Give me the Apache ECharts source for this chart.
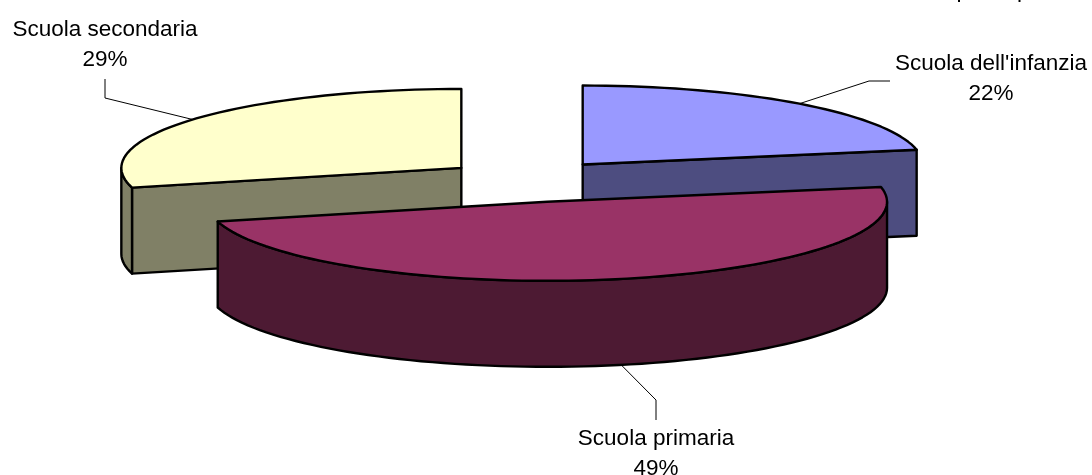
<!DOCTYPE html>
<html>
<head>
<meta charset="utf-8">
<style>
  html, body { margin: 0; padding: 0; background: #fff; }
  #chart { width: 1092px; height: 475px; }
</style>
<script src="https://cdn.jsdelivr.net/npm/echarts@6/dist/echarts.min.js"></script>
</head>
<body>
<div id="chart"></div>
<script>
// Dati
const categories = ["Scuola dell'infanzia", "Scuola primaria", "Scuola secondaria"];
const values = [22, 49, 29];

// Stile
const topColors = ["#9999ff", "#993366", "#ffffcc"];
const sideColors = ["#4d4d80", "#4d1a33", "#808066"];
const sliceZ = [1, 3, 2];

// Posizione etichette e linee guida (gomito, fine)
const labelPos = [[991, 64], [656, 439], [105, 30]];
const leaderBend = [[869, 81], [656, 400], [105, 98]];
const leaderEnd = [[890, 81], [656, 420], [105, 79]];

// Resti del titolo tagliato dal bordo superiore
const clippedTitleX = [956.5, 1017];

// Ellisse del pie "3D"
const pie = { cx: 528.5, cy: 181, rx: 340, ry: 79, depth: 86, explodeX: 0.25, explodeY: 0.27 };

const total = values.reduce((a, b) => a + b, 0);
const fontFamily = '"Liberation Sans", Arial, sans-serif';
const labelFont = "22.5px " + fontFamily;

function rimPoint(c, deg) {
  const a = deg * Math.PI / 180;
  return [c[0] + pie.rx * Math.sin(a), c[1] - pie.ry * Math.cos(a)];
}

function arcPoints(c, from, to) {
  const pts = [];
  const n = Math.max(2, Math.ceil((to - from) / 2));
  for (let i = 0; i <= n; i++) pts.push(rimPoint(c, from + (to - from) * i / n));
  return pts;
}

function down(p) {
  return [p[0], p[1] + pie.depth];
}

function renderSlice(params, api) {
  const i = api.value(0);
  let start = 0;
  for (let k = 0; k < i; k++) start += values[k] / total * 360;
  const end = start + api.value(1) / total * 360;
  const mid = (start + end) / 2;
  const midRad = mid * Math.PI / 180;
  // centro spostato lungo la bisettrice
  const c = [
    pie.cx + pie.explodeX * pie.rx * Math.sin(midRad),
    pie.cy - pie.explodeY * pie.ry * Math.cos(midRad)
  ];
  const z = sliceZ[i] * 10;
  const edge = { stroke: "#000", lineWidth: 2.4, lineJoin: "round" };
  const children = [];
  const addPoly = (points, fill, z2) => children.push({
    type: "polygon", z2: z2, shape: { points: points },
    style: Object.assign({ fill: fill }, edge)
  });

  // parete interna visibile sul raggio sinistro/destro
  if (i !== 1) {
    const corner = rimPoint(c, i === 0 ? end : start);
    addPoly([c, corner, down(corner), down(c)], sideColors[i], z);
  }
  // parete esterna: solo la parte rivolta verso chi guarda
  const wallFrom = Math.max(start, 90);
  const wallTo = Math.min(end, 270);
  if (wallTo > wallFrom) {
    const arc = arcPoints(c, wallFrom, wallTo);
    addPoly(arc.concat(arc.slice().reverse().map(down)), sideColors[i], z + 1);
  }
  // faccia superiore
  addPoly([c].concat(arcPoints(c, start, end)), topColors[i], z + 2);

  // linea guida
  children.push({
    type: "polyline", z2: 40,
    shape: {
      points: [
        i === 1 ? down(rimPoint(c, mid)) : rimPoint(c, mid),
        leaderBend[i],
        leaderEnd[i]
      ]
    },
    style: { stroke: "#000", lineWidth: 1, fill: null }
  });
  // etichetta: y e' il centro della prima riga
  children.push({
    type: "text", z2: 50, x: labelPos[i][0], y: labelPos[i][1] - 15,
    style: {
      text: categories[i] + "\n" + Math.round(api.value(1) / total * 100) + "%",
      font: labelFont, fill: "#000",
      lineHeight: 30, align: "center", verticalAlign: "top"
    }
  });
  return { type: "group", children: children };
}

const chart = echarts.init(document.getElementById("chart"), null, { renderer: "canvas" });
chart.setOption({
  backgroundColor: "#ffffff",
  animation: false,
  tooltip: { show: false },
  graphic: clippedTitleX.map(x => ({
    type: "text", x: x, y: -21,
    style: { text: "p", font: labelFont, fill: "#000", align: "left", verticalAlign: "top" }
  })),
  series: [{
    type: "custom",
    coordinateSystem: "none",
    clip: false,
    silent: true,
    renderItem: renderSlice,
    data: values.map((v, i) => [i, v])
  }]
});
</script>
</body>
</html>
